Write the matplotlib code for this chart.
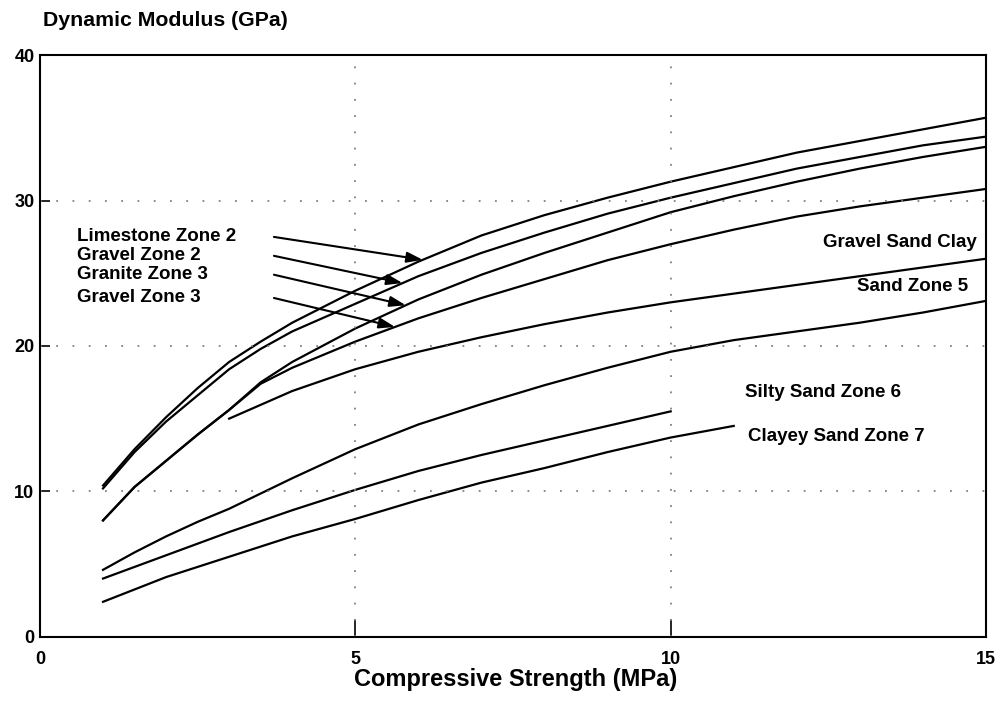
import numpy as np
import matplotlib
matplotlib.use("Agg")
import matplotlib.pyplot as plt

plt.rcParams['font.family'] = ['Liberation Sans', 'DejaVu Sans']
plt.rcParams['font.weight'] = 'bold'

# Curves (compressive strength MPa -> dynamic modulus GPa)
x_top = [1, 1.5, 2, 2.5, 3, 3.5, 4, 5, 6, 7, 8, 9, 10, 11, 12, 13, 14, 15]
limestone_z2 = [10.4, 12.9, 15.1, 17.1, 18.9, 20.3, 21.6, 23.8, 25.8, 27.6, 29.0, 30.2, 31.3, 32.3, 33.3, 34.1, 34.9, 35.7]
gravel_z2 = [10.2, 12.7, 14.8, 16.6, 18.4, 19.8, 21.0, 22.9, 24.8, 26.4, 27.8, 29.1, 30.2, 31.2, 32.2, 33.0, 33.8, 34.4]

x_mid = [1, 1.5, 2, 2.5, 3, 3.5, 4, 5, 6, 7, 8, 9, 10, 11, 12, 13, 14, 15]
granite_z3 = [8.0, 10.3, 12.1, 13.9, 15.6, 17.5, 18.9, 21.2, 23.2, 24.9, 26.4, 27.8, 29.2, 30.3, 31.3, 32.2, 33.0, 33.7]
gravel_z3 = [8.0, 10.3, 12.1, 13.9, 15.6, 17.4, 18.5, 20.3, 21.9, 23.3, 24.6, 25.9, 27.0, 28.0, 28.9, 29.6, 30.2, 30.8]

x_gsc = [3, 4, 5, 6, 7, 8, 9, 10, 11, 12, 13, 14, 15]
gravel_sand_clay = [15.0, 16.9, 18.4, 19.6, 20.6, 21.5, 22.3, 23.0, 23.6, 24.2, 24.8, 25.4, 26.0]

x_sand = [1, 1.5, 2, 2.5, 3, 4, 5, 6, 7, 8, 9, 10, 11, 12, 13, 14, 15]
sand_z5 = [4.6, 5.8, 6.9, 7.9, 8.8, 10.9, 12.9, 14.6, 16.0, 17.3, 18.5, 19.6, 20.4, 21.0, 21.6, 22.3, 23.1]

x_silty = [1, 2, 3, 4, 5, 6, 7, 8, 9, 10]
silty_sand_z6 = [4.0, 5.6, 7.2, 8.7, 10.1, 11.4, 12.5, 13.5, 14.5, 15.5]

x_clayey = [1, 2, 3, 4, 5, 6, 7, 8, 9, 10, 11]
clayey_sand_z7 = [2.4, 4.1, 5.5, 6.9, 8.1, 9.4, 10.6, 11.6, 12.7, 13.7, 14.5]

fig = plt.figure(figsize=(9.99, 7.17), dpi=100)
ax = fig.add_axes([0.040, 0.112, 0.947, 0.811])

lw = 1.6
for cx, cy in [(x_top, limestone_z2), (x_top, gravel_z2), (x_mid, granite_z3),
               (x_mid, gravel_z3), (x_gsc, gravel_sand_clay), (x_sand, sand_z5),
               (x_silty, silty_sand_z6), (x_clayey, clayey_sand_z7)]:
    ax.plot(cx, cy, color='black', lw=lw, solid_joinstyle='round')

ax.set_xlim(0, 15)
ax.set_ylim(0, 40)
ax.set_xticks([0, 5, 10, 15])
ax.set_yticks([0, 10, 20, 30, 40])
ax.tick_params(axis='both', direction='in', labelsize=13, width=1.2)
ax.tick_params(axis='y', length=7, pad=4)
ax.tick_params(axis='x', length=12, pad=10)
for lab in ax.get_xticklabels() + ax.get_yticklabels():
    lab.set_fontweight('bold')
for sp in ax.spines.values():
    sp.set_linewidth(1.5)

# dotted grid at the interior lines only
for gx in [5, 10]:
    ax.axvline(gx, color='gray', lw=1.3, ls=(0, (1, 8)))
for gy in [10, 20, 30]:
    ax.axhline(gy, color='gray', lw=1.3, ls=(0, (1, 8)))

# arrow labels for the four upper curves
tail_x = 3.71
arrow_items = [
    ('Limestone Zone 2', 27.5, x_top, limestone_z2, 6.07),
    ('Gravel Zone 2', 26.2, x_top, gravel_z2, 5.75),
    ('Granite Zone 3', 24.9, x_mid, granite_z3, 5.80),
    ('Gravel Zone 3', 23.3, x_mid, gravel_z3, 5.63),
]
for name, ty, cx, cy, tip_x in arrow_items:
    ax.text(0.58, ty, name, fontsize=13.5, fontweight='bold', va='center', ha='left')
    ax.annotate('', xy=(tip_x, np.interp(tip_x, cx, cy)), xytext=(tail_x, ty),
                arrowprops=dict(arrowstyle='-|>,head_length=0.6,head_width=0.2',
                                color='black', lw=1.5,
                                mutation_scale=16, shrinkA=0, shrinkB=0))

ax.text(14.85, 27.1, 'Gravel Sand Clay', fontsize=13.5, fontweight='bold', ha='right', va='center')
ax.text(14.72, 24.1, 'Sand Zone 5', fontsize=13.5, fontweight='bold', ha='right', va='center')
ax.text(11.18, 16.8, 'Silty Sand Zone 6', fontsize=13.5, fontweight='bold', ha='left', va='center')
ax.text(11.23, 13.8, 'Clayey Sand Zone 7', fontsize=13.5, fontweight='bold', ha='left', va='center')

fig.text(0.043, 0.972, 'Dynamic Modulus (GPa)', fontsize=15.3, fontweight='bold', ha='left', va='center')
fig.text(0.516, 0.052, 'Compressive Strength (MPa)', fontsize=17, fontweight='bold', ha='center', va='center')

fig.savefig('out.png', dpi=100)
